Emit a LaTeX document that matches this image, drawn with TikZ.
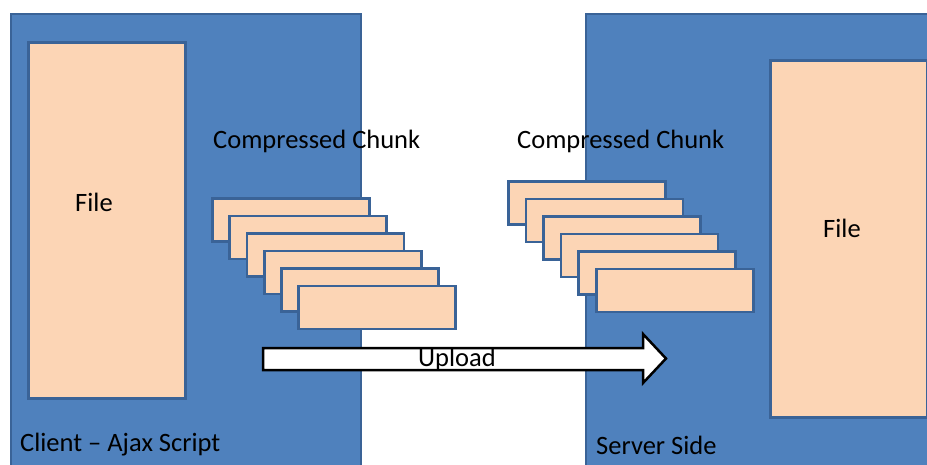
\documentclass[tikz,border=0pt]{standalone}
\usepackage{fontspec}
\setmainfont{Carlito}
\definecolor{boxblue}{HTML}{4F81BD}
\definecolor{boxline}{HTML}{3A6397}
\definecolor{peach}{HTML}{FCD5B5}
\begin{document}
\begin{tikzpicture}[x=1pt,y=-1pt,
  panel/.style={draw=boxline,fill=boxblue,line width=2pt,anchor=north west,inner sep=0pt,minimum width=#1},
  filebox/.style={draw=boxline,fill=peach,line width=2.5pt,anchor=north west,inner sep=0pt,minimum width=157pt},
  chunk/.style={draw=boxline,fill=peach,line width=2.5pt,anchor=north west,inner sep=0pt,minimum width=157pt,minimum height=43pt},
  lbl/.style={font=\fontsize{26.5}{30}\selectfont,text=black,inner sep=0pt}]
\useasboundingbox (0,0) rectangle (927,464);
\begin{scope}
\clip (0,0) rectangle (927,464);
% client side
\node[panel=350pt,minimum height=480pt] (client) at (10,13) {};
\node[filebox,minimum height=356pt] (lfile) at (27,41) {};
\node[lbl] (lfiletxt) at (94,202) {File};
\foreach \i/\x/\y in {1/211/197,2/228/214.5,3/245.5/232,4/263/249.5,5/280/267,6/297/284.5}
  \node[chunk] (lc\i) at (\x,\y) {};
\node[lbl,anchor=west] (lct) at (213,141) {Compressed Chunk};
\node[lbl,anchor=west] (clientlbl) at (20,445) {Client -- Ajax Script};
% server side
\node[panel=360pt,minimum height=480pt] (server) at (585,13) {};
\node[filebox,minimum height=357pt] (rfile) at (769,59) {};
\node[lbl] (rfiletxt) at (842,228) {File};
\foreach \i/\x/\y in {1/507/180,2/524.5/197.5,3/542/215,4/559.5/232.5,5/577/250,6/595/267.5}
  \node[chunk] (rc\i) at (\x,\y) {};
\node[lbl,anchor=west] (rct) at (517,141) {Compressed Chunk};
\node[lbl,anchor=west] (serverlbl) at (596,445) {Server Side};
% upload arrow
\draw[fill=white,line width=2.5pt,line join=miter] (263,348) -- (643,348) -- (643,334) -- (666,358.5) -- (643,383) -- (643,370) -- (263,370) -- cycle;
\node[lbl] (upload) at (457,359) {Upload};
\end{scope}
\end{tikzpicture}
\end{document}
